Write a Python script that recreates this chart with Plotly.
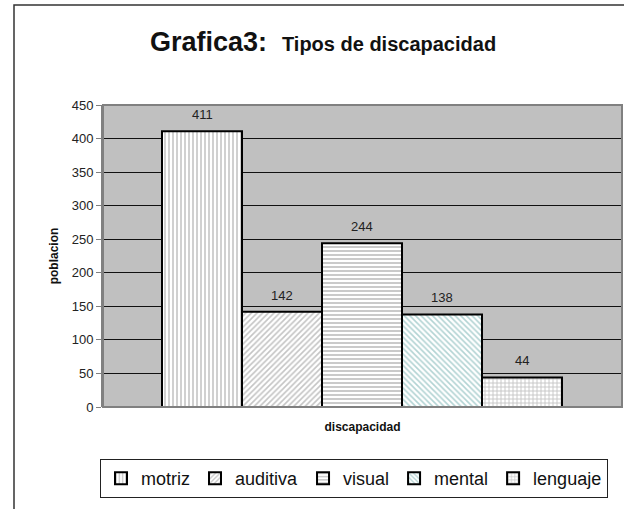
import plotly.graph_objects as go

# Data
categorias = ["motriz", "auditiva", "visual", "mental", "lenguaje"]
poblacion = [411, 142, 244, 138, 44]
y_ticks = [0, 50, 100, 150, 200, 250, 300, 350, 400, 450]

# Fill patterns per category
patrones = ["|", "/", "-", "\\", "+"]
colores_fg = ["#8a8a8a", "#8a8a8a", "#7a7a7a", "#66a8a8", "#8a8a8a"]

FONT = "Liberation Sans, Arial, sans-serif"
W, H = 624, 509
ML, MR, MT, MB = 103, 2, 105, 102
pw, ph = W - ML - MR, H - MT - MB


def px_x(p):
    return (p - ML) / pw


def px_y(p):
    return (H - MB - p) / ph


fig = go.Figure()
for i, (cat, val) in enumerate(zip(categorias, poblacion)):
    fig.add_trace(go.Bar(
        x=[i], y=[val], name=cat, width=1,
        marker=dict(
            color="white",
            line=dict(color="black", width=2),
            pattern=dict(shape=patrones[i], fgcolor=colores_fg[i],
                         bgcolor="white", size=4, solidity=0.4),
        ),
        hoverinfo="skip",
    ))
    fig.add_annotation(x=i, y=val, text=str(val), showarrow=False,
                       yanchor="bottom", yshift=7,
                       font=dict(family=FONT, size=13, color="#222"))

# Outer chart frame
fig.add_shape(type="rect", xref="paper", yref="paper",
              x0=px_x(14), x1=px_x(640), y0=px_y(530), y1=px_y(5),
              line=dict(color="#333", width=1.5), layer="below")

fig.update_layout(
    width=W, height=H,
    margin=dict(l=ML, r=MR, t=MT, b=MB),
    paper_bgcolor="white",
    plot_bgcolor="#c0c0c0",
    barmode="overlay",
    showlegend=True,
    font=dict(family=FONT, color="#111"),
    title=dict(
        text="<b>Grafica3:</b>  <b><span style='font-size:20px'>Tipos de discapacidad</span></b>",
        font=dict(family=FONT, size=27, color="#111"),
        x=px_x(323), xanchor="center", xref="paper",
        y=1 - 42 / H, yanchor="middle",
    ),
    xaxis=dict(
        range=[-0.5 - (162 - ML) / 80, -0.5 - (162 - ML) / 80 + pw / 80],
        showticklabels=False, showgrid=False, zeroline=False,
        ticks="", fixedrange=True,
        title=dict(text="<b>discapacidad</b>", font=dict(family=FONT, size=12), standoff=15),
        showline=False,
    ),
    yaxis=dict(
        range=[0, 450], tickvals=y_ticks,
        showgrid=True, gridcolor="#111", gridwidth=1,
        zeroline=False,
        showline=True, linecolor="#808080", linewidth=2,
        ticks="outside", ticklen=5, tickcolor="#808080",
        tickfont=dict(family=FONT, size=13, color="#222"),
        title=dict(text="<b>poblacion</b>", font=dict(family=FONT, size=12), standoff=10),
        mirror=False,
    ),
    legend=dict(
        orientation="h",
        x=px_x(100), xanchor="left",
        y=px_y(459), yanchor="top",
        bordercolor="#222", borderwidth=1,
        font=dict(family=FONT, size=18, color="#111"),
        itemsizing="constant",
        itemwidth=30,
        tracegroupgap=0,
    ),
)

# Plot-area border
fig.add_shape(type="rect", xref="paper", yref="paper", x0=0, x1=1, y0=0, y1=1,
              line=dict(color="#808080", width=2), layer="above")

fig.write_html("out.html")
